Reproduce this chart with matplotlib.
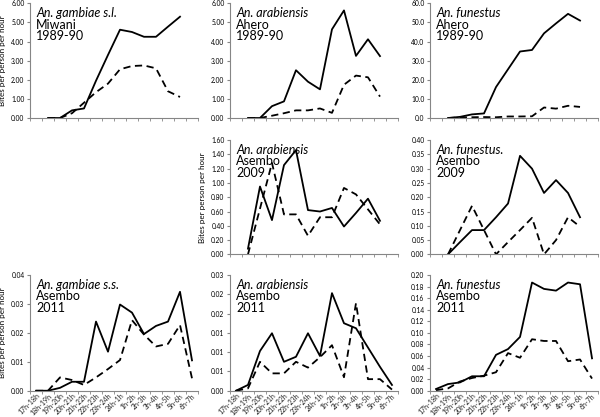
# -*- coding: utf-8 -*-
# Picadas por pessoa por hora - 3x3 paineis (painel do meio-esquerda vazio)
import matplotlib.pyplot as plt
from matplotlib.ticker import MultipleLocator, FormatStrFormatter, FixedLocator

# 1. Dados
horas = ['17h-18h', '18h-19h', '19h-20h', '20h-21h', '21h-22h', '22h-23h', '23h-24h',
         '24h-1h', '1h-2h', '2h-3h', '3h-4h', '4h-5h', '5h-6h', '6h-7h']

# 1989-90 e 2009: de 18h-19h ate 5h-6h (12 pontos)
miwani_gambiae_in = [0, 0, 0.40, 0.50, 1.95, 3.30, 4.62, 4.50, 4.25, 4.25, 4.78, 5.30]
miwani_gambiae_out = [0, 0, 0.25, 0.80, 1.35, 1.80, 2.55, 2.72, 2.75, 2.60, 1.40, 1.10]

ahero_arab_in = [0, 0, 0.62, 0.87, 2.50, 1.90, 1.50, 4.64, 5.63, 3.25, 4.12, 3.24]
ahero_arab_out = [0, 0, 0.12, 0.25, 0.40, 0.40, 0.50, 0.27, 1.74, 2.22, 2.13, 1.12]

ahero_fun_in = [0, 0.6, 1.9, 2.4, 16.2, 25.5, 34.8, 35.6, 44.3, 49.5, 54.5, 51.0]
ahero_fun_out = [0, 0.3, 0.4, 0.5, 0.4, 0.8, 0.8, 0.9, 5.5, 4.9, 6.4, 5.8]

asembo09_arab_in = [0.08, 0.95, 0.48, 1.25, 1.46, 0.62, 0.60, 0.65, 0.39, 0.58, 0.78, 0.47]
asembo09_arab_out = [0, 0.64, 1.28, 0.56, 0.56, 0.26, 0.52, 0.52, 0.93, 0.84, 0.63, 0.42]

asembo09_fun_in = [0, 0.043, 0.085, 0.085, 0.13, 0.178, 0.345, 0.30, 0.215, 0.26, 0.215, 0.13]
asembo09_fun_out = [0, 0.085, 0.17, 0.085, 0, 0.043, 0.085, 0.128, 0, 0.05, 0.13, 0.097]

# 2011: de 17h-18h ate 6h-7h (14 pontos)
asembo11_gss_in = [0, 0, 0.001, 0.0031, 0.0031, 0.0239, 0.0135, 0.0298, 0.027, 0.0196,
                   0.0224, 0.0239, 0.0342, 0.0105]
asembo11_gss_out = [0, 0, 0.0046, 0.0037, 0.002, 0.0046, 0.0075, 0.0106, 0.0244, 0.0194,
                    0.0153, 0.0162, 0.0227, 0.0043]

asembo11_arab_in = [0, 0.0015, 0.0103, 0.0149, 0.0075, 0.0088, 0.0149, 0.009, 0.0253,
                    0.0175, 0.0162, 0.0112, 0.0062, 0.0015]
asembo11_arab_out = [0, 0.0006, 0.0075, 0.0045, 0.0045, 0.0075, 0.006, 0.0087, 0.0118,
                     0.0035, 0.0227, 0.003, 0.003, 0.0003]

asembo11_fun_in = [0.003, 0.0115, 0.0144, 0.025, 0.025, 0.062, 0.072, 0.093, 0.187,
                   0.176, 0.173, 0.187, 0.184, 0.056]
asembo11_fun_out = [0.001, 0.004, 0.016, 0.022, 0.026, 0.032, 0.065, 0.057, 0.089,
                    0.086, 0.086, 0.051, 0.054, 0.021]

# 2. Configuracao dos paineis: (linha, coluna, especie, local, ano, dentro, fora, ymax, passo, formato, ylabel)
paineis = [
    (0, 0, 'An. gambiae s.l.', 'Miwani', '1989-90', miwani_gambiae_in, miwani_gambiae_out, 6, 1, '%.2f', True),
    (0, 1, 'An. arabiensis', 'Ahero', '1989-90', ahero_arab_in, ahero_arab_out, 6, 1, '%.2f', False),
    (0, 2, 'An. funestus', 'Ahero', '1989-90', ahero_fun_in, ahero_fun_out, 60, 10, '%.1f', False),
    (1, 1, 'An. arabiensis', 'Asembo', '2009', asembo09_arab_in, asembo09_arab_out, 1.6, 0.2, '%.2f', True),
    (1, 2, 'An. funestus.', 'Asembo', '2009', asembo09_fun_in, asembo09_fun_out, 0.4, 0.05, '%.2f', False),
    (2, 0, 'An. gambiae s.s.', 'Asembo', '2011', asembo11_gss_in, asembo11_gss_out, 0.04, 0.01, '%.2f', True),
    (2, 1, 'An. arabiensis', 'Asembo', '2011', asembo11_arab_in, asembo11_arab_out, 0.03, 0.005, '%.2f', False),
    (2, 2, 'An. funestus', 'Asembo', '2011', asembo11_fun_in, asembo11_fun_out, 0.2, 0.02, '%.2f', False),
]

plt.rcParams['font.family'] = ['Lato', 'DejaVu Sans']
cinza = '#868686'

fig = plt.figure(figsize=(6, 4.17), dpi=100)
col_x = [0.05, 0.3833, 0.7167]
row_y = [(0.717, 0.275), (0.390, 0.274), (0.063, 0.2775)]

# 3. Desenhar cada painel
for lin, col, especie, local, ano, dentro, fora, ymax, passo, fmt, ylab in paineis:
    base, alt = row_y[lin]
    ax = fig.add_axes([col_x[col], base, 0.28, alt])
    if len(dentro) == 14:
        x = list(range(14))
    else:
        x = list(range(1, 13))
    ax.plot(x, dentro, color='black', lw=1.3)
    ax.plot(x, fora, color='black', lw=1.3, dashes=(4, 2.5))

    ax.set_xlim(-0.5, 13.5)
    ax.set_ylim(0, ymax)
    ax.yaxis.set_major_locator(MultipleLocator(passo))
    ax.yaxis.set_major_formatter(FormatStrFormatter(fmt))
    ax.xaxis.set_major_locator(FixedLocator(range(14)))
    ax.xaxis.set_minor_locator(FixedLocator([i + 0.5 for i in range(-1, 14)]))
    ax.tick_params(axis='x', which='major', length=0, labelsize=5, colors='#222222', pad=1)
    ax.tick_params(axis='x', which='minor', length=2.5, color=cinza)
    ax.tick_params(axis='y', length=2.5, color=cinza, labelsize=4.8, pad=1.5)
    if lin == 2:
        ax.set_xticklabels(horas, rotation=45, ha='right', rotation_mode='anchor')
    else:
        ax.set_xticklabels([])

    for lado in ['top', 'right']:
        ax.spines[lado].set_visible(False)
    for lado in ['left', 'bottom']:
        ax.spines[lado].set_color(cinza)
        ax.spines[lado].set_linewidth(0.8)

    if ylab:
        ax.set_ylabel('Bites per person per hour', fontsize=5.8, labelpad=4)

    ax.text(0.036, 0.915, especie, transform=ax.transAxes, fontsize=9,
            style='italic', va='center')
    ax.text(0.036, 0.815, local, transform=ax.transAxes, fontsize=9, va='center')
    ax.text(0.036, 0.715, ano, transform=ax.transAxes, fontsize=9, va='center')

plt.savefig('out.png', dpi=100)
